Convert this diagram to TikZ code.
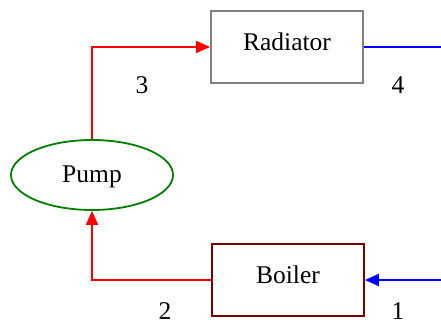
\documentclass[tikz,border=0pt]{standalone}
\usepackage{fontspec}
\setmainfont{Liberation Serif}
\usetikzlibrary{arrows.meta,shapes.geometric}
\definecolor{maroon}{HTML}{800000}
\definecolor{darkgreen}{HTML}{008000}
\begin{document}
\begin{tikzpicture}[x=1pt,y=1pt,
    font=\fontsize{25.5pt}{30pt}\selectfont,
    unit/.style={draw,line width=1.8pt,minimum width=152pt,minimum height=72pt,
      inner sep=0pt,text height=17pt,text depth=10pt},
    pumpunit/.style={ellipse,draw=darkgreen,line width=1.8pt,minimum width=162pt,
      minimum height=70pt,inner sep=0pt,text height=17pt,text depth=2pt},
    pipe/.style={line width=1.8pt,-{Triangle[length=14pt,width=12pt]}}]
        \useasboundingbox (0,0) rectangle (441,324);
        \node[unit,draw=gray] (radiator) at (287,277) {Radiator};
        \node[unit,draw=maroon] (boiler) at (288,44) {Boiler};
        \node[pumpunit] (pump) at (92,149) {Pump};
        \coordinate (out) at (441,277);
        \coordinate (in) at (441,44);
        \draw[pipe,red] (pump.north) |- (radiator.west);
        \draw[pipe,red] (boiler.west) -| (pump.south);
        \draw[line width=1.8pt,blue] (radiator.east) -- (out);
        \draw[pipe,blue] (in) -- (boiler.east);
        \foreach \n/\x/\y in {1/398/13,2/165/13,3/142/239,4/398/239} {
            \node[inner sep=0pt] (n\n) at (\x,\y) {\n};
          }
      \end{tikzpicture}
\end{document}
